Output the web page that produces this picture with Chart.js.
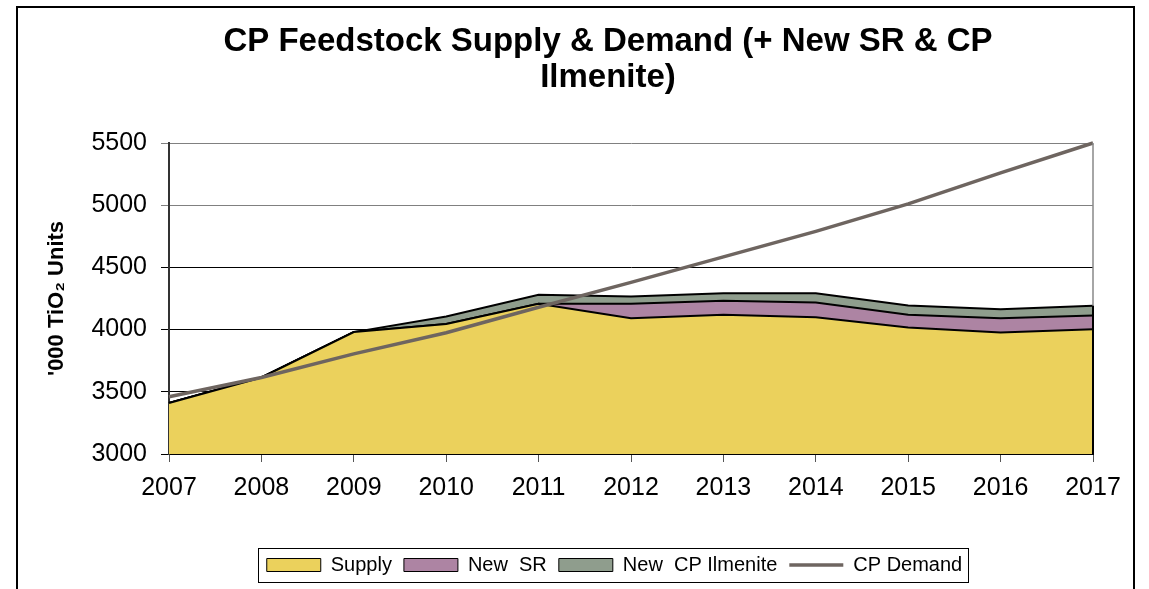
<!DOCTYPE html>
<html>
<head>
<meta charset="utf-8">
<script src="https://cdn.jsdelivr.net/npm/chart.js@4/dist/chart.umd.min.js"></script>
<style>
html,body{margin:0;background:#fff;}
#wrap{width:1149px;height:589px;}
</style>
</head>
<body>
<div id="wrap"><canvas id="chart" width="1149" height="589"></canvas></div>
<script>
const years = ['2007','2008','2009','2010','2011','2012','2013','2014','2015','2016','2017'];
const supply = [3410, 3615, 3980, 4045, 4208, 4092, 4119, 4100, 4017, 3977, 4003];
const newSR = [0, 0, 0, 0, 0, 115, 113, 118, 102, 115, 110];
const newIlmenite = [0, 0, 0, 60, 72, 59, 61, 75, 75, 72, 78];
const demand = [3460, 3615, 3805, 3975, 4180, 4380, 4585, 4790, 5010, 5260, 5500];
const yTicks = [3000, 3500, 4000, 4500, 5000, 5500];
const titleLines = ['CP Feedstock Supply & Demand (+ New SR & CP', 'Ilmenite)'];

Chart.defaults.font.family = '"Liberation Sans", Arial, sans-serif';
Chart.defaults.color = '#000';

function qs(id){return document.getElementById(id);}

// title, outer frame, legend box and right plot edge
const decor = {
  id: 'decor',
  afterLayout(chart){
    // Excel centres the legend a bit right of the canvas middle
    chart.legend.left += 53;
    chart.legend.right += 53;
  },
  beforeDraw(chart){
    const c = chart.ctx;
    c.save();
    c.fillStyle = '#fff';
    c.fillRect(0, 0, chart.width, chart.height);
    c.restore();
  },
  afterDraw(chart){
    const c = chart.ctx, a = chart.chartArea, y = chart.scales.y;
    c.save();
    // right edge of plot
    c.strokeStyle = '#888'; c.lineWidth = 1.5;
    c.beginPath(); c.moveTo(a.right, a.top); c.lineTo(a.right, a.bottom); c.stroke();
    const last = years.length - 1;
    const topVal = supply[last] + newSR[last] + newIlmenite[last];
    c.strokeStyle = '#000'; c.lineWidth = 2;
    c.beginPath(); c.moveTo(a.right, a.bottom); c.lineTo(a.right, y.getPixelForValue(topVal)); c.stroke();

    // outer frame
    c.strokeStyle = '#000'; c.lineWidth = 2;
    c.strokeRect(17, 7, 1117, 640);

    // title
    c.fillStyle = '#000';
    c.font = 'bold 33px "Liberation Sans", Arial, sans-serif';
    c.textAlign = 'center';
    c.textBaseline = 'alphabetic';
    c.fillText(titleLines[0], 608, 51);
    c.fillText(titleLines[1], 608, 87);

    // legend box
    const hb = chart.legend.legendHitBoxes;
    if (hb && hb.length){
      const first = hb[0], lastHb = hb[hb.length - 1];
      const cy = first.top + first.height / 2;
      c.strokeStyle = '#000'; c.lineWidth = 1;
      c.strokeRect(Math.round(first.left - 9) + 0.5, Math.round(cy - 17) + 0.5,
        Math.round(lastHb.left + lastHb.width + 6 - first.left + 9), 34);
    }
    c.restore();
  }
};

new Chart(qs('chart'), {
  type: 'line',
  data: {
    labels: years,
    datasets: [
      { label: 'Supply', data: supply, backgroundColor: '#EBD15C', borderColor: '#000', borderWidth: 2,
        fill: 'start', pointRadius: 0, pointStyle: 'rect', order: 1, stack: 'supply' },
      { label: 'New  SR', data: newSR, backgroundColor: '#AD84A3', borderColor: '#000', borderWidth: 2,
        fill: '-1', pointRadius: 0, pointStyle: 'rect', order: 2, stack: 'supply' },
      { label: 'New  CP Ilmenite', data: newIlmenite, backgroundColor: '#8F9D8D', borderColor: '#000', borderWidth: 2,
        fill: '-1', pointRadius: 0, pointStyle: 'rect', order: 3, stack: 'supply' },
      { label: 'CP Demand', data: demand, borderColor: '#6E6560', backgroundColor: '#6E6560', borderWidth: 3.5,
        fill: false, pointRadius: 0, pointStyle: 'line', order: 0, stack: 'demand', clip: false }
    ]
  },
  options: {
    responsive: false,
    animation: false,
    events: [],
    layout: { padding: { top: 143, left: 30, right: 56, bottom: 4 } },
    scales: {
      x: {
        grid: { drawOnChartArea: false, drawTicks: true, tickLength: 8, color: '#555' },
        border: { color: '#000', width: 2 },
        ticks: { font: { size: 25 }, padding: 11, maxRotation: 0, autoSkip: false },
        afterFit(s){ s.height = 89; }
      },
      y: {
        stacked: true,
        min: 3000, max: 5500,
        afterBuildTicks(s){ s.ticks = yTicks.map(v => ({ value: v })); },
        grid: { color: ctx => (ctx.tick && ctx.tick.value >= 5000) ? '#808080' : '#000', tickLength: 8, lineWidth: 1 },
        border: { color: '#333', width: 2 },
        ticks: { font: { size: 25 }, padding: 14, callback: v => String(v) },
        title: { display: true, text: "'000 TiO\u2082 Units", font: { size: 22, weight: 'bold' }, padding: { top: 14, bottom: 0 } },
        afterFit(s){ s.width = 139; }
      }
    },
    plugins: {
      title: { display: false },
      tooltip: { enabled: false },
      legend: {
        position: 'bottom',
        labels: {
          font: { size: 20 },
          usePointStyle: true,
          pointStyleWidth: 54,
          boxWidth: 54,
          boxHeight: 13,
          padding: 12,
          sort: (a, b) => a.datasetIndex - b.datasetIndex,
          generateLabels(chart){
            const items = Chart.defaults.plugins.legend.labels.generateLabels(chart);
            items.forEach(it => { if (it.datasetIndex < 3) it.lineWidth = 1; });
            return items;
          }
        }
      }
    }
  },
  plugins: [decor]
});
</script>
</body>
</html>
